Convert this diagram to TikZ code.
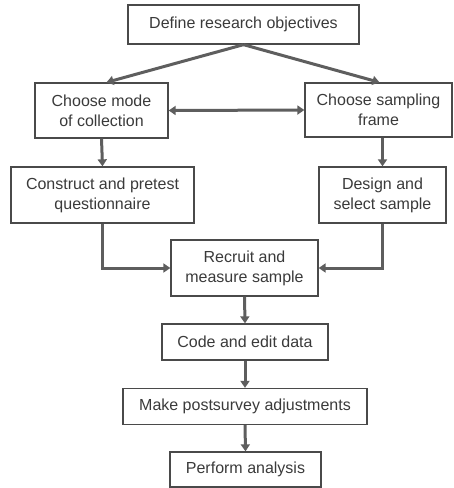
\documentclass[tikz,border=0pt]{standalone}
\usepackage{fontspec}
\setmainfont{Liberation Sans}
\usetikzlibrary{arrows.meta}
\definecolor{boxline}{HTML}{4A4A4A}
\definecolor{arrowgray}{HTML}{5E5E5E}
\definecolor{txt}{HTML}{3A3A3A}
\begin{document}
\begin{tikzpicture}[x=1pt,y=-1pt,
  stepbox/.style={draw=boxline,line width=1.3pt,rectangle,align=center,
    text=txt,inner sep=0pt,font=\fontsize{16}{20}\selectfont},
  flow/.style={draw=arrowgray,line width=3pt,
    -{Triangle[length=7pt,width=9pt]}},
  both/.style={draw=arrowgray,line width=3pt,
    {Triangle[length=7pt,width=9pt]}-{Triangle[length=7pt,width=9pt]}}]
\useasboundingbox (0,0) rectangle (454,488);

\node[stepbox,minimum width=231pt,minimum height=39pt] (def) at (243.5,24.5) {Define research objectives};
\node[stepbox,minimum width=133pt,minimum height=55pt] (mode) at (101.5,110.5) {Choose mode\\of collection};
\node[stepbox,minimum width=147pt,minimum height=54pt] (frame) at (378.5,110) {Choose sampling\\frame};
\node[stepbox,minimum width=183pt,minimum height=56pt] (cons) at (102.5,195) {Construct and pretest\\questionnaire};
\node[stepbox,minimum width=127pt,minimum height=56pt] (des) at (382.5,195) {Design and\\select sample};
\node[stepbox,minimum width=147pt,minimum height=56pt] (rec) at (244.5,268) {Recruit and\\measure sample};
\node[stepbox,minimum width=166pt,minimum height=36pt] (code) at (245,342) {Code and edit data};
\node[stepbox,minimum width=244pt,minimum height=36pt] (make) at (245,406.5) {Make postsurvey adjustments};
\node[stepbox,minimum width=151pt,minimum height=35pt] (perf) at (245.5,469.5) {Perform analysis};

\coordinate (mtop) at ([xshift=5pt]mode.north);
\coordinate (ftop) at ([xshift=1pt]frame.north);
\draw[flow] (def.south) -- (mtop);
\draw[flow] (def.south) -- (ftop);
\draw[both] (mode.east) -- (frame.west);
\draw[flow] (mode.south) -- (cons.north);
\draw[flow] (des.north |- frame.south) -- (des.north);
\draw[flow] (cons.south) |- (rec.west);
\draw[flow] (des.south) |- (rec.east);
\draw[flow] (rec.south) -- (code.north);
\draw[flow] (code.south) -- (make.north);
\draw[flow] (make.south) -- (perf.north);
\end{tikzpicture}
\end{document}
